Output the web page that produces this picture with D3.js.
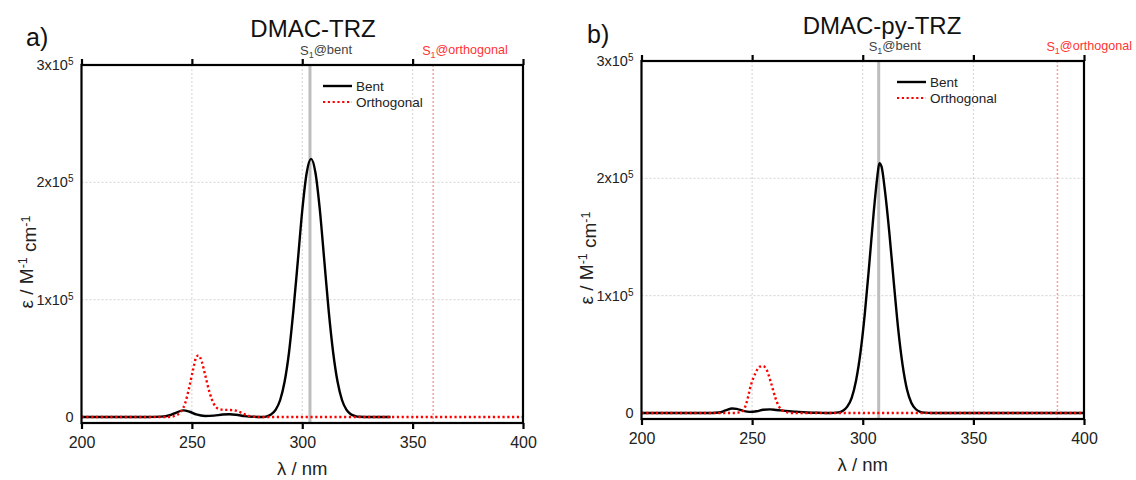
<!DOCTYPE html>
<html><head><meta charset="utf-8">
<script src="https://cdn.jsdelivr.net/npm/d3@7"></script>
<style>body{margin:0;background:#fff;} svg{display:block;} text{font-family:"Liberation Sans",Arial,sans-serif;}</style>
</head><body><svg id="c" width="1136" height="480"></svg>
<script>
const panelLabels = ["a)", "b)"];
const titles = ["DMAC-TRZ", "DMAC-py-TRZ"];
const xTicks = [200, 250, 300, 350, 400];
const yTicks = [0, 1e5, 2e5, 3e5];
const yTickLabels = [["0", ""], ["1x10", "5"], ["2x10", "5"], ["3x10", "5"]];
const xDomain = [200, 400];
const yDomain = [-5100, 300000];
const legendLabels = ["Bent", "Orthogonal"];
const s1Labels = ["@bent", "@orthogonal"];
const s1Bent = [303.5, 307.2];
const s1Orth = [359.3, 388.0];

// [wavelength nm, epsilon M^-1 cm^-1]
const bentA = [[200,0],[230,0],[236,300],[240,1500],[243,3800],[246,5700],[249,4500],[252,2200],[256,900],[260,1200],[264,2100],[267,2300],[270,1900],[274,800],[278,200],[282,0],[284,600],[286,2400],[288,6300],[290,14500],[292,30000],[294,55000],[296,91000],[298,133000],[300,176000],[302,208000],[304,220000],[306,208000],[308,176000],[310,133000],[312,90000],[314,55000],[316,30000],[318,14500],[320,6300],[322,2400],[324,800],[326,200],[330,0],[340,0]];
const orthA = [[200,0],[238,0],[241,400],[243,1500],[245,4500],[247,12000],[249,27000],[250.5,40000],[252,51000],[253,52500],[254.5,47000],[256,36000],[258,21000],[260,11000],[262,7000],[264,6200],[267,6000],[270,5400],[272,4000],[274,2200],[276,900],[278,200],[280,0],[400,0]];
const bentB = [[200,0],[232,0],[235,400],[238,2200],[241,3900],[243,3500],[246,1800],[249,1000],[252,1500],[255,2800],[258,3100],[261,2600],[265,1800],[270,1100],[275,500],[280,200],[285,0],[289,600],[291,2000],[293,5500],[295,13000],[297,28000],[299,52000],[301,86000],[303,128000],[305,172000],[306.5,200000],[307.5,213000],[308.5,210000],[310,190000],[312,154000],[314,112000],[316,72000],[318,41000],[320,20000],[322,8500],[324,3200],[326,1000],[328,300],[331,0],[400,0]];
const orthB = [[200,0],[242,0],[244,500],[246,2000],[247.5,9000],[249.5,24000],[251.5,34000],[253.5,39500],[255,40000],[256.5,37000],[258.5,26000],[260.5,13000],[262,6000],[263.5,2500],[265.5,700],[268,0],[400,0]];

const series = [[bentA, orthA], [bentB, orthB]];
const svg = d3.select("#c");
const layout = [
  {l:81.5, r:523, t:65, b:423, title:[313,37], lab:[26,46], ylab:[33,262], xlab:475, tickY:448, s1Y:55, leg:[323,86]},
  {l:641.5, r:1084, t:61, b:419, title:[882,34], lab:[587,43], ylab:[593,258], xlab:471, tickY:444, s1Y:51, leg:[897,82]}
];

layout.forEach((L, i) => {
  const x = d3.scaleLinear().domain(xDomain).range([L.l, L.r]);
  const y = d3.scaleLinear().domain(yDomain).range([L.b, L.t]);
  const g = svg.append("g");

  // grid
  g.selectAll(".gx").data(xTicks.slice(1, -1)).join("line")
    .attr("x1", d => x(d)).attr("x2", d => x(d)).attr("y1", L.t).attr("y2", L.b)
    .attr("stroke", "#c8c8c8").attr("stroke-width", 0.8).attr("stroke-dasharray", "2,2");
  g.selectAll(".gy").data(yTicks.slice(1, -1)).join("line")
    .attr("x1", L.l).attr("x2", L.r).attr("y1", d => y(d)).attr("y2", d => y(d))
    .attr("stroke", "#c8c8c8").attr("stroke-width", 0.8).attr("stroke-dasharray", "2,2");

  // S1 markers
  g.append("line").attr("x1", x(s1Bent[i])).attr("x2", x(s1Bent[i])).attr("y1", L.t).attr("y2", L.b)
    .attr("stroke", "#bdbdbd").attr("stroke-width", 3);
  g.append("line").attr("x1", x(s1Orth[i])).attr("x2", x(s1Orth[i])).attr("y1", L.t).attr("y2", L.b)
    .attr("stroke", "#f5a0a0").attr("stroke-width", 1.5).attr("stroke-dasharray", "2,2");

  // curves
  const line = d3.line().x(d => x(d[0])).y(d => y(d[1])).curve(d3.curveMonotoneX);
  g.append("path").datum(series[i][0]).attr("d", line).attr("fill", "none")
    .attr("stroke", "#000").attr("stroke-width", 2.4).attr("stroke-linejoin", "round");
  g.append("path").datum(series[i][1]).attr("d", line).attr("fill", "none")
    .attr("stroke", "#ff0000").attr("stroke-width", 2.4).attr("stroke-dasharray", "2.2,2.6");

  // frame
  g.append("rect").attr("x", L.l).attr("y", L.t).attr("width", L.r - L.l).attr("height", L.b - L.t)
    .attr("fill", "none").attr("stroke", "#000").attr("stroke-width", 2.2);

  // bottom axis
  const gb = g.append("g").attr("transform", `translate(0,${L.b})`)
    .call(d3.axisBottom(x).tickValues(xTicks).tickSize(6).tickFormat(d3.format("d")));
  gb.select(".domain").remove();
  gb.selectAll(".tick line").attr("stroke", "#000").attr("stroke-width", 2.2);
  gb.selectAll(".tick text").attr("y", L.tickY - L.b).attr("dy", 0)
    .attr("font-size", "16px").attr("fill", "#222");

  // top axis (ticks only)
  const gt = g.append("g").attr("transform", `translate(0,${L.t})`)
    .call(d3.axisTop(x).tickValues(xTicks).tickSize(6).tickFormat(""));
  gt.select(".domain").remove();
  gt.selectAll(".tick line").attr("stroke", "#000").attr("stroke-width", 2.2);

  // left axis labels
  const gl = g.append("g").attr("transform", `translate(${L.l},0)`)
    .call(d3.axisLeft(y).tickValues(yTicks).tickSize(0).tickPadding(8));
  gl.select(".domain").remove();
  gl.selectAll(".tick text").each(function(d) {
    const t = d3.select(this);
    t.text(null).attr("font-size", "14.5px").attr("fill", "#222");
    const lab = yTickLabels[yTicks.indexOf(d)];
    t.append("tspan").text(lab[0]);
    if (lab[1]) t.append("tspan").attr("dy", "-0.5em").attr("font-size", "10px").text(lab[1]);
  });

  // titles
  svg.append("text").attr("x", L.title[0]).attr("y", L.title[1]).attr("text-anchor", "middle")
    .attr("font-size", "24px").attr("fill", "#111").text(titles[i]);
  svg.append("text").attr("x", L.lab[0]).attr("y", L.lab[1])
    .attr("font-size", "25px").attr("fill", "#111").text(panelLabels[i]);

  // y title
  const yt = svg.append("text").attr("transform", `translate(${L.ylab[0]},${L.ylab[1]}) rotate(-90)`)
    .attr("text-anchor", "middle").attr("font-size", "19px").attr("fill", "#222");
  yt.append("tspan").text("ε / M");
  yt.append("tspan").attr("dy", "-0.5em").attr("font-size", "12.5px").text("-1");
  yt.append("tspan").attr("dy", "0.5em").text(" cm");
  yt.append("tspan").attr("dy", "-0.5em").attr("font-size", "12.5px").text("-1");

  // x title
  svg.append("text").attr("x", (L.l + L.r) / 2).attr("y", L.xlab).attr("text-anchor", "middle")
    .attr("font-size", "18.5px").attr("fill", "#222").text("λ / nm");

  // S1 labels
  const sb = svg.append("text").attr("x", x(s1Bent[i]) - 10).attr("y", L.s1Y)
    .attr("font-size", "13px").attr("fill", "#444");
  sb.append("tspan").text("S");
  sb.append("tspan").attr("dy", "0.3em").attr("font-size", "9px").text("1");
  sb.append("tspan").attr("dy", "-0.3em").text(s1Labels[0]);
  const so = svg.append("text").attr("x", x(s1Orth[i]) - 11).attr("y", L.s1Y)
    .attr("font-size", "12.6px").attr("fill", "#ff3333");
  so.append("tspan").text("S");
  so.append("tspan").attr("dy", "0.3em").attr("font-size", "9px").text("1");
  so.append("tspan").attr("dy", "-0.3em").text(s1Labels[1]);

  // legend
  const lg = svg.append("g");
  lg.append("line").attr("x1", L.leg[0]).attr("x2", L.leg[0] + 29).attr("y1", L.leg[1]).attr("y2", L.leg[1])
    .attr("stroke", "#000").attr("stroke-width", 2.4);
  lg.append("line").attr("x1", L.leg[0]).attr("x2", L.leg[0] + 29).attr("y1", L.leg[1] + 16).attr("y2", L.leg[1] + 16)
    .attr("stroke", "#ff0000").attr("stroke-width", 2.2).attr("stroke-dasharray", "2.2,2.6");
  legendLabels.forEach((t, k) => {
    lg.append("text").attr("x", L.leg[0] + 33).attr("y", L.leg[1] + 16 * k).attr("dy", "0.35em")
      .attr("font-size", "13.5px").attr("fill", "#222").text(t);
  });
});
</script></body></html>
